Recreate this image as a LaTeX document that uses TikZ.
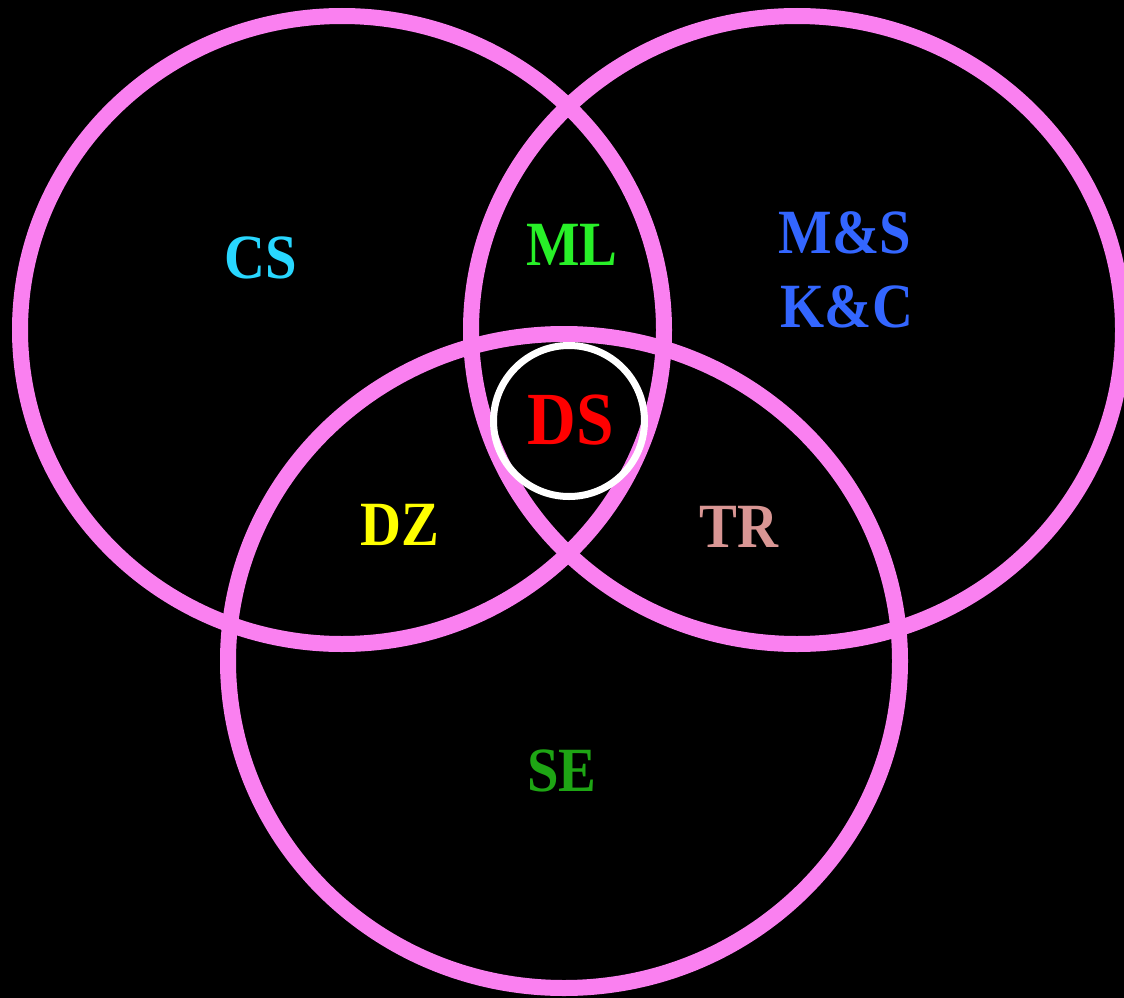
\documentclass[tikz,border=0pt]{standalone}
\usepackage{fontspec}
\setmainfont{Liberation Serif}[FakeStretch=0.9]
\definecolor{ring}{RGB}{250,128,240}
\definecolor{cscol}{RGB}{40,215,255}
\definecolor{mlcol}{RGB}{40,240,40}
\definecolor{mscol}{RGB}{51,102,255}
\definecolor{dscol}{RGB}{255,0,0}
\definecolor{dzcol}{RGB}{255,255,0}
\definecolor{trcol}{RGB}{217,150,148}
\definecolor{secol}{RGB}{30,165,20}
\tikzset{
  setring/.style={draw=ring, line width=16pt},
  lbl/.style={inner sep=0pt, font=\fontsize{63}{70}\selectfont\bfseries},
}
\begin{document}
\begin{tikzpicture}[x=1pt, y=-1pt]
  % page and background
  \fill[black] (0,0) rectangle (1124,998);
  \useasboundingbox (0,0) rectangle (1124,998);

  % the three sets
  \draw[setring] (342,330) ellipse [x radius=322, y radius=314];
  \draw[setring] (564,661) ellipse [x radius=336, y radius=327];
  \draw[setring] (797,330) ellipse [x radius=326, y radius=314];

  % centre ring
  \node (core) [circle, draw=white, line width=7pt, minimum size=151pt, inner sep=0pt] at (569,421) {};

  % labels
  \node (cs) [lbl, text=cscol] at (261,258) {CS};
  \node (ml) [lbl, text=mlcol] at (572,245) {ML};
  \node (ms) [lbl, text=mscol] at (845,233) {M\&S};
  \node (kc) [lbl, text=mscol] at (847,307) {K\&C};
  \node (ds) [lbl, text=dscol, font=\fontsize{75}{82}\selectfont\bfseries] at (571,420) {DS};
  \node (dz) [lbl, text=dzcol] at (400,525) {DZ};
  \node (tr) [lbl, text=trcol] at (739,527) {TR};
  \node (se) [lbl, text=secol] at (562,771) {SE};
\end{tikzpicture}
\end{document}
